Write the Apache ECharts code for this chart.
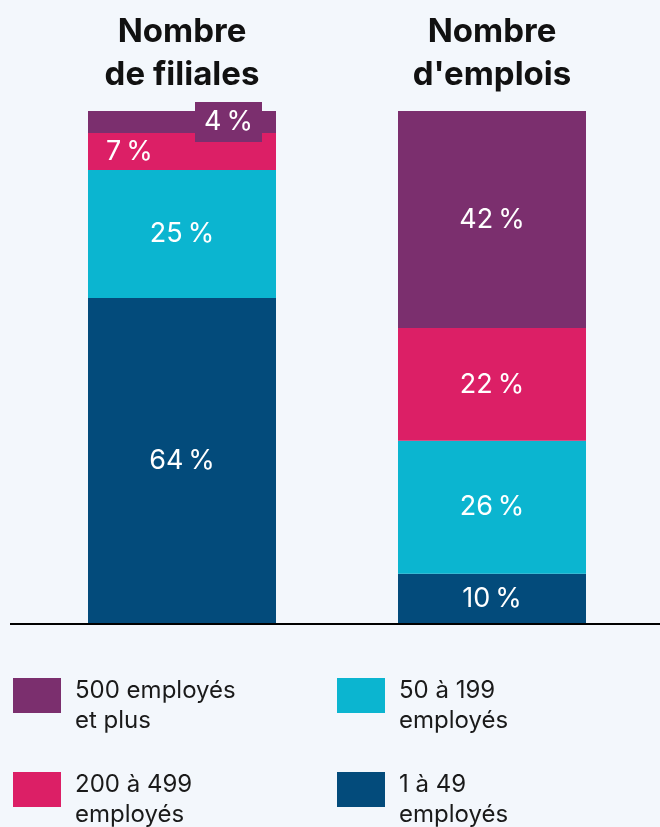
<!DOCTYPE html>
<html><head><meta charset="utf-8">
<script src="https://cdn.jsdelivr.net/npm/echarts@6/dist/echarts.min.js"></script>
<style>html,body{margin:0;padding:0;background:#f3f7fc;}#c{width:660px;height:827px;}</style>
</head><body><div id="c"></div>
<script>
const categories = ['Nombre\nde filiales', "Nombre\nd'emplois"];
const seriesNames = ['1 à 49\nemployés', '50 à 199\nemployés', '200 à 499\nemployés', '500 employés\net plus'];
const s1to49 = [63.5, 9.6];
const s50to199 = [25.0, 26.0];
const s200to499 = [7.2, 22.0];
const s500plus = [4.3, 42.4];
const colors = ['#034b7b', '#0bb5d0', '#dc1f66', '#7b2f6e'];
const values = [s1to49, s50to199, s200to499, s500plus];
const FONT = 'Inter';
const fmt = p => Math.round(p.value) + '\u202f%';
const baseLabel = {show: true, position: 'inside', color: '#fff', fontFamily: FONT, fontSize: 27, formatter: fmt};

const series = values.map((vals, i) => ({
  name: seriesNames[i], type: 'bar', stack: 'a', barWidth: 188,
  itemStyle: {color: colors[i]},
  label: baseLabel,
  data: vals.map((v, j) => {
    if (i === 2 && j === 0) return {value: v, label: {position: 'insideLeft', distance: 18}};
    if (i === 3 && j === 0) return {value: v, label: {position: [140.5, 11], align: 'center', verticalAlign: 'middle',
      backgroundColor: colors[3], width: 67, height: 40, lineHeight: 40, padding: 0}};
    return v;
  })
}));

const legendPos = [[3, 13, 655.5], [2, 13, 749.5], [1, 337, 655.5], [0, 337, 749.5]];
const legends = legendPos.map(([idx, x, y]) => ({
  data: [seriesNames[idx]], left: x, top: y, orient: 'vertical', itemWidth: 48, itemHeight: 35, itemGap: 10,
  icon: 'rect', selectedMode: false, padding: 0,
  formatter: name => '{s|}\n' + name.split('\n').map(l => '{a|' + l + '}').join('\n'),
  textStyle: {fontFamily: FONT, fontSize: 24, lineHeight: 30, color: '#1a1a1a', padding: [0, 0, 0, 9],
    rich: {s: {lineHeight: 20, fontSize: 10}, a: {fontFamily: FONT, fontSize: 24, lineHeight: 30, color: '#1a1a1a'}}}
}));

const chart = echarts.init(document.getElementById('c'));
chart.setOption({
  backgroundColor: '#f3f7fc',
  animation: false,
  grid: {left: 27, right: 13, top: 111, bottom: 204},
  xAxis: {type: 'category', data: categories, position: 'top',
    axisLine: {show: false}, axisTick: {show: false},
    axisLabel: {color: '#111', fontFamily: FONT, fontWeight: 'bold', fontSize: 33, lineHeight: 43, margin: 14}},
  yAxis: {type: 'value', min: 0, max: 100, show: false},
  legend: legends,
  graphic: [{type: 'line', shape: {x1: 10, y1: 624, x2: 660, y2: 624}, style: {stroke: '#000', lineWidth: 2}, z: 10}],
  series
});
</script></body></html>
